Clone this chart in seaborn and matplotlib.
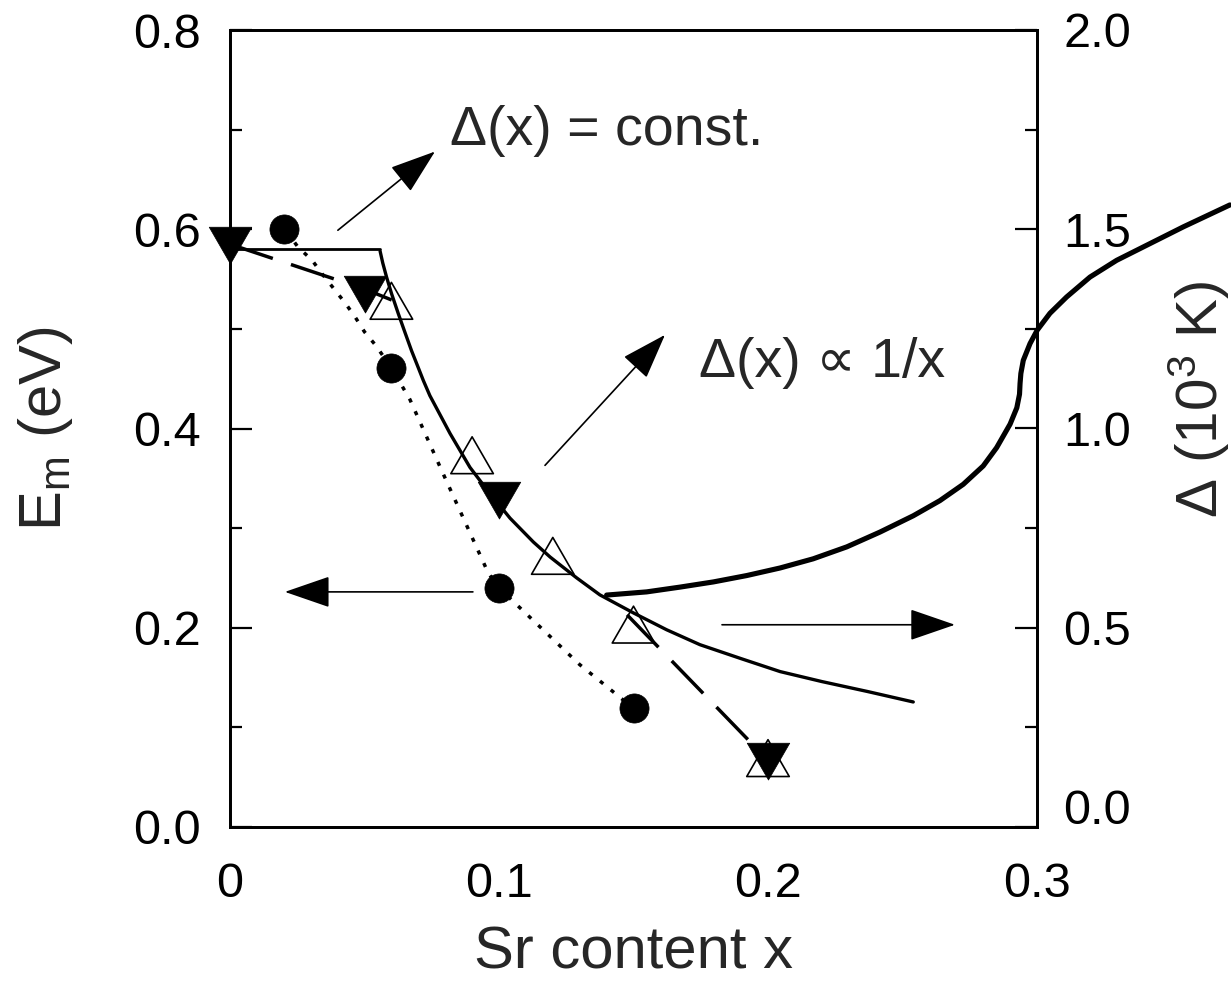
import numpy as np
import pandas as pd
import matplotlib
matplotlib.use("Agg")
import matplotlib.pyplot as plt
import seaborn as sns
from matplotlib.transforms import ScaledTranslation
from matplotlib.ticker import MultipleLocator

# ---------------- data ----------------
tri_dn_x = [0.0, 0.05, 0.10, 0.20]
tri_dn_E = [0.590, 0.541, 0.334, 0.072]
circ_x = [0.02, 0.06, 0.10, 0.15]
circ_E = [0.600, 0.461, 0.240, 0.119]
tri_up_x = [0.060, 0.090, 0.120, 0.150, 0.200]
tri_up_E = [0.522, 0.367, 0.266, 0.197, 0.063]

const_x = [0.0, 0.0558]
const_E = [0.580, 0.580]

inv_x = [0.0558, 0.0568, 0.0582, 0.0601, 0.0626, 0.0651, 0.0675, 0.0700, 0.0719,
         0.0743, 0.0818, 0.0892, 0.0954, 0.1041, 0.1128, 0.1190, 0.1289, 0.1375,
         0.1499, 0.1623, 0.1747, 0.1900, 0.2045, 0.2200, 0.2370, 0.2540]
inv_E = [0.578, 0.566, 0.552, 0.535, 0.515, 0.496, 0.478, 0.461, 0.448,
         0.433, 0.395, 0.361, 0.339, 0.310, 0.286, 0.271, 0.250, 0.233,
         0.215, 0.198, 0.183, 0.169, 0.156, 0.146, 0.136, 0.1255]

# dashed guide through the filled triangles (visible parts only)
dash1_x = [0.0, 0.05, 0.0601]
dash1_E = [0.585, 0.540, 0.529]
dash2_x = [0.1476, 0.200]
dash2_E = [0.213, 0.067]

dot_x = [0.021, 0.0253, 0.0305, 0.034, 0.039, 0.0428, 0.0465, 0.050, 0.054, 0.060,
         0.0669, 0.079, 0.096, 0.100, 0.130, 0.1405, 0.150]
dot_E = [0.598, 0.582, 0.569, 0.556, 0.539, 0.526, 0.512, 0.497, 0.484, 0.461,
         0.429, 0.356, 0.255, 0.240, 0.163, 0.140, 0.119]

gap_x = [0.1400, 0.1549, 0.1673, 0.1797, 0.1921, 0.2045, 0.2168, 0.2293, 0.2416, 0.2540,
         0.2639, 0.2726, 0.2800, 0.2850, 0.2900, 0.2925, 0.2935, 0.2937, 0.2940, 0.2949,
         0.2974, 0.3001, 0.3048, 0.3110, 0.3197, 0.3296, 0.3420, 0.3544, 0.3717]
gap_D = [0.582, 0.590, 0.602, 0.615, 0.631, 0.650, 0.673, 0.703, 0.740, 0.781,
         0.819, 0.860, 0.906, 0.952, 1.011, 1.052, 1.086, 1.113, 1.138, 1.171,
         1.213, 1.247, 1.289, 1.330, 1.380, 1.422, 1.464, 1.506, 1.561]

arrow_tails = [(0.0401, 0.599), (0.1171, 0.363), (0.0903, 0.236), (0.1829, 0.203)]
arrow_tips = [(0.0762, 0.678), (0.1617, 0.494), (0.0204, 0.236), (0.2695, 0.203)]

x_ticks = [0.0, 0.1, 0.2, 0.3]
x_ticklabels = ["0", "0.1", "0.2", "0.3"]
yl_ticks = [0.0, 0.2, 0.4, 0.6, 0.8]
yl_ticklabels = ["0.0", "0.2", "0.4", "0.6", "0.8"]
yr_ticks = [0.0, 0.5, 1.0, 1.5, 2.0]
yr_ticklabels = ["0.0", "0.5", "1.0", "1.5", "2.0"]

# ---------------- style ----------------
sns.set_theme(style="white")
plt.rcParams["font.family"] = ["Liberation Sans", "DejaVu Sans"]
plt.rcParams["mathtext.fontset"] = "custom"
plt.rcParams["mathtext.rm"] = "Liberation Sans"
plt.rcParams["mathtext.it"] = "Liberation Sans:italic"
plt.rcParams["mathtext.default"] = "regular"

TICK_FS = 35
LABEL_FS = 43
ANN_FS = 40

fig = plt.figure(figsize=(12.31, 9.84), dpi=100)
ax = fig.add_axes([230 / 1231, 1 - 827 / 984, 807 / 1231, 797 / 984])
ax2 = ax.twinx()

# ---------------- lines ----------------
sns.lineplot(x=const_x, y=const_E, ax=ax, color="black", lw=2.0,
             sort=False, estimator=None)
for dx, dy in ((dash1_x, dash1_E), (dash2_x, dash2_E)):
    sns.lineplot(x=dx, y=dy, ax=ax, color="black", lw=2.5,
                 sort=False, estimator=None, linestyle=(0, (13, 5.5)))
sns.lineplot(x=dot_x, y=dot_E, ax=ax, color="black", lw=2.5,
             sort=False, estimator=None, linestyle=(0, (1.2, 2.8)))
sns.lineplot(x=inv_x, y=inv_E, ax=ax, color="black", lw=2.4,
             sort=False, estimator=None, solid_joinstyle="round")

# ---------------- markers ----------------
sns.scatterplot(x=tri_up_x, y=tri_up_E, ax=ax, marker=(3, 0, 0), s=1250,
                color="black", facecolor="none", edgecolor="black",
                linewidth=1.2, zorder=4)
sns.scatterplot(x=tri_dn_x, y=tri_dn_E, ax=ax, marker=(3, 0, 180), s=1250,
                color="black", facecolor="black", edgecolor="black",
                linewidth=0.5, zorder=5, clip_on=False)
sns.scatterplot(x=circ_x, y=circ_E, ax=ax, marker="o", s=440,
                color="black", facecolor="black", edgecolor="black",
                linewidth=0.5, zorder=5)

# right-axis curve (extends beyond the frame)
sns.lineplot(x=gap_x, y=gap_D, ax=ax2, color="black", lw=3.7,
             sort=False, estimator=None, clip_on=False,
             solid_joinstyle="round")

# ---------------- arrows & annotations ----------------
for tail, tip in zip(arrow_tails, arrow_tips):
    ax.annotate("", xy=tip, xytext=tail,
                arrowprops=dict(arrowstyle="-|>,head_length=2.9,head_width=1.0",
                                lw=1.2, color="black", mutation_scale=10,
                                shrinkA=0, shrinkB=0))
ax.text(0.0818, 0.685, "Δ(x) = const.", fontsize=ANN_FS, ha="left", va="baseline")
ax.text(0.1743, 0.452, "Δ(x) ∝ 1/x", fontsize=ANN_FS, ha="left", va="baseline")

# ---------------- axes ----------------
ax.set_xlim(0, 0.3)
ax.set_ylim(0, 0.8)
ax2.set_ylim(0, 2.0)

ax.set_xticks(x_ticks)
ax.set_xticklabels(x_ticklabels)
ax.set_yticks(yl_ticks)
ax.set_yticklabels(yl_ticklabels)
ax.xaxis.set_minor_locator(MultipleLocator(0.05))
ax.yaxis.set_minor_locator(MultipleLocator(0.1))
ax2.set_yticks(yr_ticks)
ax2.set_yticklabels(yr_ticklabels)
ax2.yaxis.set_minor_locator(MultipleLocator(0.25))

for a in (ax, ax2):
    for sp in a.spines.values():
        sp.set_linewidth(2.0)
        sp.set_color("black")
        sp.set_visible(True)

ax.tick_params(axis="both", which="both", direction="in", colors="black",
               labelsize=TICK_FS, width=1.6, top=False, right=False)
ax.tick_params(axis="both", which="major", length=16)
ax.tick_params(axis="both", which="minor", length=8.5)
ax.tick_params(axis="x", which="major", pad=25)
ax.tick_params(axis="y", which="major", pad=21)
ax2.tick_params(axis="y", which="both", direction="in", colors="black",
                labelsize=TICK_FS, width=1.6, left=False, right=True)
ax2.tick_params(axis="y", which="major", length=16, pad=19)
ax2.tick_params(axis="y", which="minor", length=8.5)

ax.set_xlabel("Sr content x", fontsize=LABEL_FS)
ax.set_ylabel(r"$\mathregular{E_m}$ (eV)", fontsize=LABEL_FS)
ax2.set_ylabel(r"$\mathregular{Δ\ (10^3\ K)}$", fontsize=42)
ax.xaxis.set_label_coords(0.5, -0.123)
ax.yaxis.set_label_coords(-0.192, 0.5)
ax2.yaxis.set_label_coords(1.160, 0.536)

ax.grid(False)
ax2.grid(False)

# nudge the right-hand "0.0" label upward as in the reference
fig.canvas.draw()
for t in ax2.yaxis.get_major_ticks():
    if t.label2.get_text() == "0.0":
        t.label2.set_transform(t.label2.get_transform() +
                               ScaledTranslation(0, 0.20, fig.dpi_scale_trans))

fig.savefig("out.png", dpi=100)
